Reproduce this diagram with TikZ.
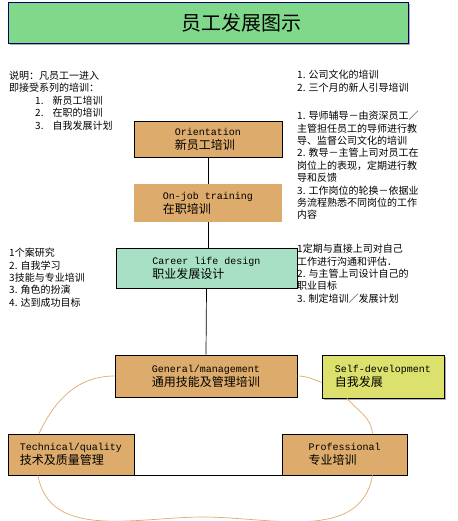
\documentclass[tikz,border=0pt]{standalone}
\usepackage{fontspec}
\newfontfamily\cjk{Noto Sans CJK SC}
\newfontfamily\mono{Liberation Mono}
\usetikzlibrary{positioning,shadows}
\definecolor{titlegreen}{HTML}{80D98A}
\definecolor{titleline}{HTML}{000066}
\definecolor{tan}{HTML}{DDAB6B}
\definecolor{mint}{HTML}{A8E0C6}
\definecolor{lime}{HTML}{DCE06C}
\newcommand\boxzh[1]{{\cjk\fontsize{12}{14}\selectfont #1}}

\begin{document}
\begin{tikzpicture}[
  x=1pt, y=-1pt,
  box/.style={rectangle, draw, line width=0.7pt, fill=tan, inner sep=0pt, align=left,
    font=\mono\fontsize{10}{14}\selectfont},
  note/.style={anchor=north west, inner sep=0pt, align=left, font=\cjk\fontsize{10}{12.4}\selectfont},
  ring/.style={tan, line width=0.7pt},
  shade/.style={drop shadow={shadow xshift=2pt, shadow yshift=-2pt, fill=black!45, opacity=0.7}}
]
\useasboundingbox (0,0) rectangle (457,521);

% title
\node[box, fill=titlegreen, draw=titleline, shade, minimum width=400pt, minimum height=41pt,
  font=\cjk\fontsize{20}{24}\selectfont] (title) at (208,22.5) {\hspace*{66pt}员工发展图示};

% side notes
\node[note] (intro) at (9,71) {说明：凡员工一进入\\即接受系列的培训：\\
  \hspace*{26pt}1.\hspace{9pt}新员工培训\\\hspace*{26pt}2.\hspace{9pt}在职的培训\\\hspace*{26pt}3.\hspace{9pt}自我发展计划};
\node[note] (culture) at (297,70) {1. 公司文化的培训\\2. 三个月的新人引导培训};
\node[note] (mentor) at (297,111) {1. 导师辅导－由资深员工／\\主管担任员工的导师进行教\\导、监督公司文化的培训\\
  2. 教导－主管上司对员工在\\岗位上的表现，定期进行教\\导和反馈\\
  3. 工作岗位的轮换－依据业\\务流程熟悉不同岗位的工作\\内容};
\node[note] (methods) at (9,248) {1个案研究\\2. 自我学习\\3技能与专业培训\\3. 角色的扮演\\4. 达到成功目标};
\node[note] (review) at (297,244) {1定期与直接上司对自己\\工作进行沟通和评估．\\2. 与主管上司设计自己的\\职业目标\\3. 制定培训／发展计划};

% stages
\node[box, minimum width=148pt, minimum height=36pt] (orient) at (208,139) {Orientation\\\boxzh{新员工培训}};
\node[box, draw=none, minimum width=148pt, minimum height=38pt] (onjob) at (208,203) {On-job training\\\boxzh{在职培训}};
\node[box, fill=mint, minimum width=181pt, minimum height=40pt] (career) at (206.5,268) {Career life design\\\boxzh{职业发展设计}};
\node[box, minimum width=182pt, minimum height=42pt] (gen) at (206,376) {General/management\\\boxzh{通用技能及管理培训}};
\node[box, fill=lime, shade, minimum width=122pt, minimum height=43pt] (self) at (383,376.5) {Self-development\\\boxzh{自我发展}};
\node[box, minimum width=126pt, minimum height=41pt] (tech) at (71,454.5) {Technical/quality\\\boxzh{技术及质量管理}};
\node[box, minimum width=125pt, minimum height=41pt] (prof) at (344.5,454.5) {Professional\\\boxzh{专业培训}};

\draw[line width=0.7pt] (orient.south) -- (onjob.north);
\draw[line width=0.7pt] (onjob.south) -- (onjob.south |- career.north);
\draw[line width=0.7pt] (career.south) -- (gen.north);
\draw[line width=0.7pt] (tech.south east) -- (prof.south west);

% development ring
\coordinate (ringbot) at (203,517);
\draw[ring] (gen.west) to[out=180,in=65] ([xshift=-32pt]tech.north);
\draw[ring] (gen.east) to[out=0,in=160] ([yshift=-6pt]self.west);
\draw[ring] ([xshift=-36pt]self.south) to[out=-50,in=95] ([xshift=28pt]prof.north);
\draw[ring] ([xshift=-33pt]tech.south) to[out=-80,in=180] (ringbot) to[out=0,in=-100] ([xshift=28pt]prof.south);
\end{tikzpicture}
\end{document}
